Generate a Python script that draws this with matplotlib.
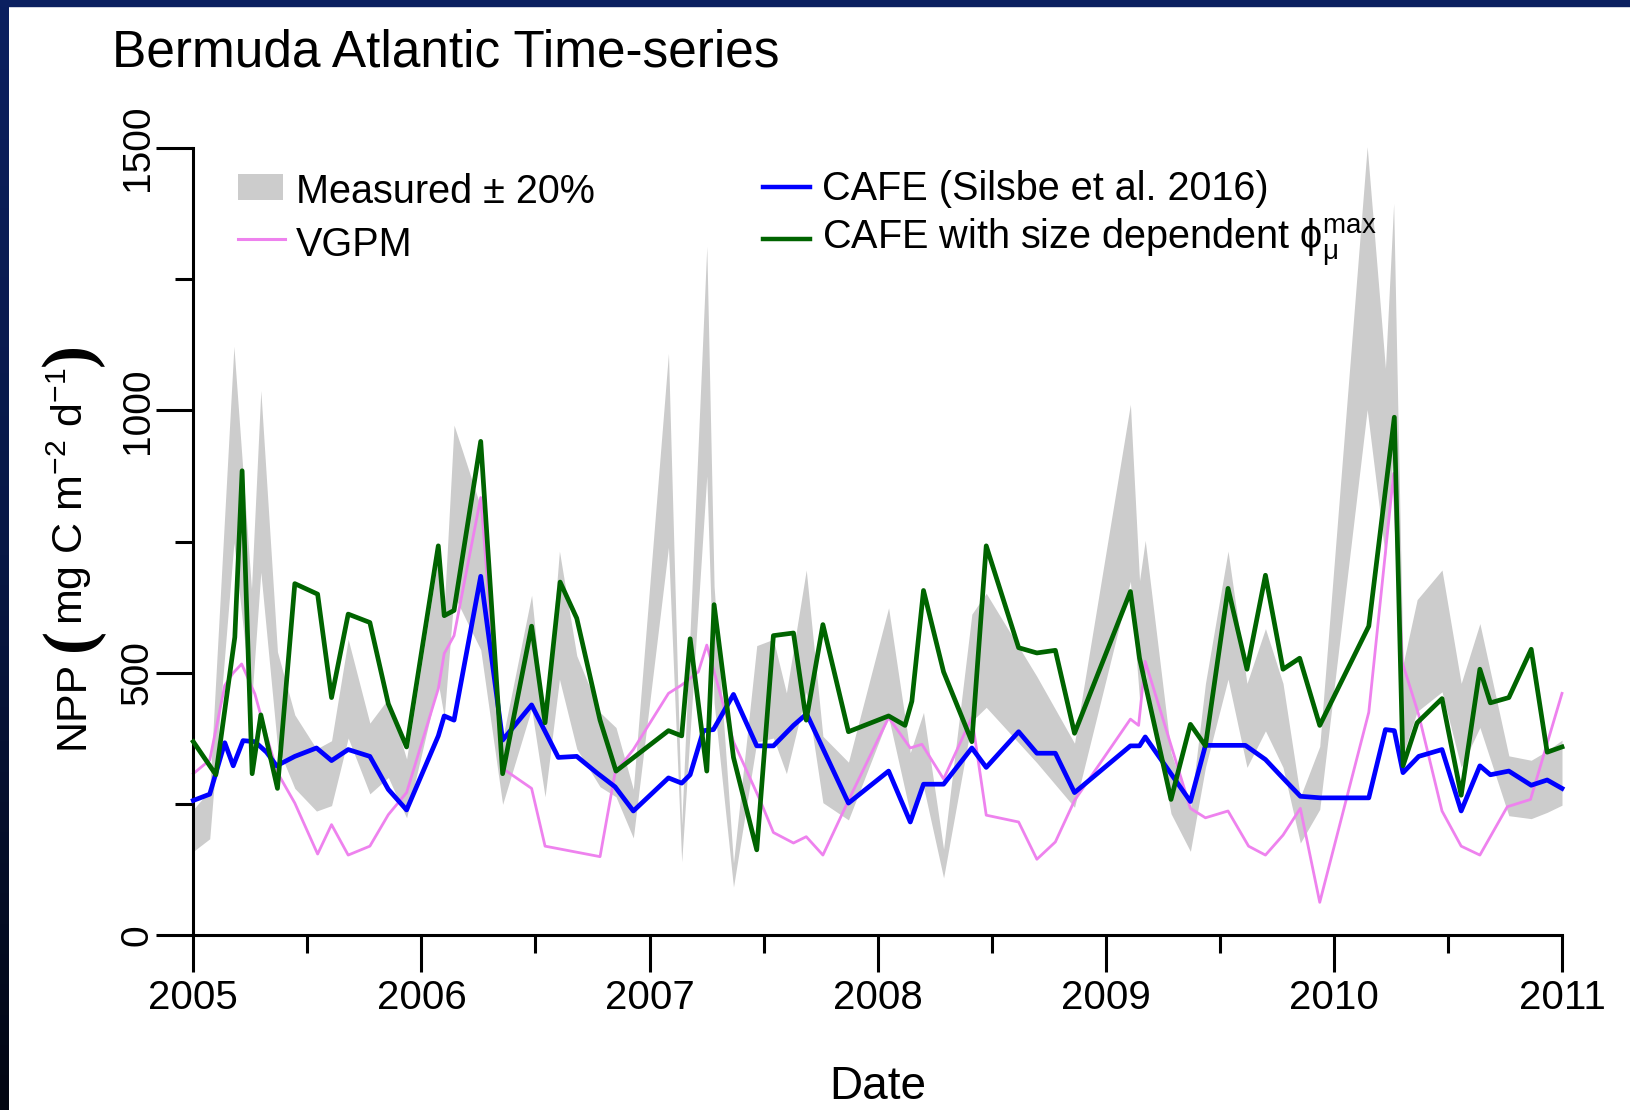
import numpy as np
import matplotlib
matplotlib.use("Agg")
import matplotlib.pyplot as plt
from matplotlib.patches import Rectangle
from matplotlib.lines import Line2D
from matplotlib.colors import LinearSegmentedColormap

plt.rcParams['font.family'] = ['Liberation Sans', 'DejaVu Sans']
plt.rcParams['mathtext.fontset'] = 'custom'
plt.rcParams['mathtext.rm'] = 'Liberation Sans'
plt.rcParams['mathtext.it'] = 'Liberation Sans:italic'
plt.rcParams['mathtext.bf'] = 'Liberation Sans:bold'
plt.rcParams['mathtext.sf'] = 'Liberation Sans'

# ---------------- data (decimal year, mg C m-2 d-1) ----------------
meas_t = [2005.000, 2005.072, 2005.178, 2005.255, 2005.296, 2005.369, 2005.445, 2005.540,
          2005.606, 2005.679, 2005.774, 2005.855, 2005.935, 2006.074, 2006.100, 2006.143,
          2006.260, 2006.356, 2006.483, 2006.542, 2006.605, 2006.681, 2006.783, 2006.853,
          2006.929, 2007.083, 2007.141, 2007.251, 2007.283, 2007.368, 2007.470, 2007.543,
          2007.600, 2007.687, 2007.760, 2007.872, 2008.048, 2008.143, 2008.201, 2008.289,
          2008.413, 2008.476, 2008.698, 2008.863, 2009.108, 2009.148, 2009.173, 2009.286,
          2009.371, 2009.437, 2009.536, 2009.619, 2009.700, 2009.777, 2009.853, 2009.938,
          2010.146, 2010.226, 2010.262, 2010.303, 2010.365, 2010.474, 2010.558, 2010.640,
          2010.767, 2010.865, 2010.935, 2011.000]
meas_v = [200, 230, 935, 550, 865, 450, 350, 296,
          309, 470, 337, 376, 280, 600, 520, 810,
          680, 312, 540, 330, 610, 444, 354, 330,
          232, 924, 175, 1094, 554, 115, 460, 470,
          385, 580, 316, 275, 520, 290, 354, 137,
          510, 543, 411, 305, 843, 563, 627, 290,
          200, 400, 610, 400, 487, 400, 220, 300,
          1252, 900, 1162, 430, 533, 580, 400, 495,
          285, 278, 293, 310]

vgpm_t = [2005.000, 2005.072, 2005.138, 2005.175, 2005.212, 2005.270, 2005.321, 2005.369,
          2005.445, 2005.545, 2005.606, 2005.679, 2005.774, 2005.855, 2005.935, 2006.074,
          2006.100, 2006.143, 2006.260, 2006.356, 2006.483, 2006.542, 2006.783, 2006.849,
          2006.929, 2007.083, 2007.141, 2007.214, 2007.251, 2007.368, 2007.485, 2007.543,
          2007.631, 2007.687, 2007.760, 2007.872, 2008.048, 2008.143, 2008.194, 2008.289,
          2008.413, 2008.476, 2008.618, 2008.698, 2008.779, 2008.863, 2009.108, 2009.144,
          2009.173, 2009.371, 2009.437, 2009.536, 2009.626, 2009.700, 2009.777, 2009.853,
          2009.938, 2010.153, 2010.262, 2010.300, 2010.372, 2010.474, 2010.558, 2010.640,
          2010.760, 2010.862, 2011.000]
vgpm_v = [308, 334, 476, 500, 517, 460, 380, 310,
          252, 155, 211, 153, 170, 230, 272, 470,
          537, 571, 834, 318, 280, 170, 150, 310,
          354, 461, 477, 502, 553, 369, 257, 196,
          176, 188, 153, 257, 415, 357, 364, 298,
          415, 229, 216, 145, 178, 257, 412, 400,
          522, 242, 224, 237, 170, 153, 191, 242,
          63, 425, 880, 520, 420, 237, 170, 153,
          245, 259, 461]

cafe_t = [2005.000, 2005.072, 2005.138, 2005.175, 2005.218, 2005.270, 2005.321, 2005.365,
          2005.445, 2005.540, 2005.606, 2005.679, 2005.774, 2005.855, 2005.935, 2006.074,
          2006.100, 2006.143, 2006.260, 2006.356, 2006.483, 2006.600, 2006.681, 2006.768,
          2006.849, 2006.929, 2007.083, 2007.141, 2007.178, 2007.236, 2007.280, 2007.368,
          2007.470, 2007.543, 2007.631, 2007.689, 2007.872, 2008.048, 2008.143, 2008.201,
          2008.289, 2008.413, 2008.476, 2008.618, 2008.698, 2008.779, 2008.863, 2009.108,
          2009.148, 2009.173, 2009.371, 2009.437, 2009.612, 2009.700, 2009.765, 2009.853,
          2009.941, 2010.153, 2010.226, 2010.265, 2010.303, 2010.372, 2010.474, 2010.558,
          2010.640, 2010.686, 2010.767, 2010.865, 2010.935, 2011.000]
cafe_v = [257, 269, 367, 323, 371, 369, 349, 323,
          341, 357, 333, 354, 341, 278, 239, 380,
          418, 410, 684, 372, 439, 339, 341, 310,
          283, 237, 300, 290, 306, 390, 392, 459,
          361, 361, 400, 422, 252, 313, 216, 288,
          288, 357, 320, 388, 347, 347, 272, 361,
          361, 378, 255, 362, 362, 335, 305, 265,
          262, 262, 392, 390, 310, 341, 354, 237,
          323, 306, 313, 286, 296, 280]

size_t = [2005.000, 2005.099, 2005.182, 2005.214, 2005.258, 2005.296, 2005.369, 2005.445,
          2005.545, 2005.606, 2005.679, 2005.774, 2005.855, 2005.935, 2006.074, 2006.100,
          2006.143, 2006.260, 2006.356, 2006.483, 2006.542, 2006.608, 2006.681, 2006.783,
          2006.853, 2007.083, 2007.141, 2007.178, 2007.251, 2007.283, 2007.368, 2007.470,
          2007.543, 2007.631, 2007.687, 2007.760, 2007.872, 2008.048, 2008.120, 2008.150,
          2008.201, 2008.289, 2008.413, 2008.476, 2008.618, 2008.698, 2008.779, 2008.863,
          2009.108, 2009.148, 2009.286, 2009.371, 2009.437, 2009.536, 2009.619, 2009.700,
          2009.777, 2009.850, 2009.938, 2010.153, 2010.265, 2010.303, 2010.365, 2010.474,
          2010.558, 2010.640, 2010.686, 2010.767, 2010.865, 2010.935, 2011.000]
size_v = [369, 306, 568, 885, 308, 420, 280, 670,
          650, 453, 612, 596, 441, 359, 742, 609,
          619, 941, 308, 589, 405, 673, 604, 410,
          313, 390, 380, 565, 313, 630, 339, 163,
          571, 576, 410, 592, 388, 418, 400, 446,
          657, 502, 369, 742, 548, 538, 543, 385,
          655, 528, 259, 402, 361, 661, 507, 686,
          507, 528, 400, 589, 987, 323, 405, 451,
          267, 507, 443, 453, 545, 349, 359]

year_ticks = [2005, 2006, 2007, 2008, 2009, 2010, 2011]
half_ticks = [2005.5, 2006.5, 2007.5, 2008.5, 2009.5, 2010.5]
npp_ticks = [0, 500, 1000, 1500]
npp_minor = [250, 750, 1250]

legend_labels = ["Measured \u00b1 20%", "VGPM", "CAFE (Silsbe et al. 2016)",
                 r"CAFE with size dependent $\mathrm{\phi}_{\mathrm{\mu}}^{\mathrm{max}}$"]

C_GRAY = '#cccccc'
C_PINK = '#ee82ee'
C_BLUE = '#0000ff'
C_GREEN = '#006400'

# ---------------- figure ----------------
W, H = 1631, 1110
fig = plt.figure(figsize=(W / 100, H / 100), dpi=100, facecolor='white')

def fx(px):
    return px / W

def fy(py):
    return 1 - py / H

# slide border (top + left strip)
fig.patches.append(Rectangle((0, fy(6)), 1, 6 / H, transform=fig.transFigure,
                             color='#0b2060', zorder=5))
axg = fig.add_axes([0, 0, fx(9), 1])
grad = np.linspace(0, 1, 256).reshape(-1, 1)
cmap = LinearSegmentedColormap.from_list('nv', ['#0b2060', '#081845', '#020612'])
axg.imshow(grad, aspect='auto', cmap=cmap, extent=[0, 1, 0, 1], origin='upper')
axg.axis('off')

x0, x1 = 193.3, 1562.0
y0, y1 = 935.4, 147.9
ax = fig.add_axes([fx(x0), fy(y0), fx(x1) - fx(x0), (y0 - y1) / H])
ax.set_xlim(2005, 2011)
ax.set_ylim(0, 1500)
ax.patch.set_alpha(0)

m = np.array(meas_v, dtype=float)
ax.fill_between(meas_t, 0.8 * m, 1.2 * m, color=C_GRAY, lw=0, clip_on=False, zorder=1)
ax.plot(vgpm_t, vgpm_v, color=C_PINK, lw=2.0, clip_on=False, zorder=2,
        solid_joinstyle='round')
ax.plot(cafe_t, cafe_v, color=C_BLUE, lw=3.4, clip_on=False, zorder=3,
        solid_joinstyle='round')
ax.plot(size_t, size_v, color=C_GREEN, lw=3.4, clip_on=False, zorder=4,
        solid_joinstyle='round')

for s in ['top', 'right']:
    ax.spines[s].set_visible(False)
for s in ['left', 'bottom']:
    ax.spines[s].set_linewidth(2.2)
ax.spines['left'].set_bounds(0, 1500)
ax.spines['bottom'].set_bounds(2005, 2011)

ax.set_xticks(year_ticks)
ax.set_xticklabels([str(y) for y in year_ticks])
ax.set_xticks(half_ticks, minor=True)
ax.set_yticks(npp_ticks)
ax.set_yticklabels([str(v) for v in npp_ticks])
ax.set_yticks(npp_minor, minor=True)
ax.tick_params(axis='both', which='major', length=26.5, width=2.2, direction='out')
ax.tick_params(axis='both', which='minor', length=13, width=2.2, direction='out')
ax.tick_params(axis='x', which='major', pad=5, labelsize=29)
ax.tick_params(axis='y', which='major', pad=0.5, labelrotation=90, labelsize=28)
for lab in ax.get_yticklabels():
    lab.set_va('center')

# titles / labels
fig.text(fx(112), fy(66.7), "Bermuda Atlantic Time-series", fontsize=37,
         ha='left', va='baseline')
fig.text(fx(877.5), fy(1099), "Date", fontsize=33, ha='center', va='baseline')

# y-axis label built from pieces (large parentheses as in the original)
renderer = fig.canvas.get_renderer()

def vtext(ystart_px, s, size, weight='normal', xbase=83.3, family=None, va='baseline'):
    kw = {}
    if family is not None:
        kw['family'] = family
    t = fig.text(fx(xbase), fy(ystart_px), s, fontsize=size, rotation=90,
                 rotation_mode='anchor', ha='left', va=va, fontweight=weight, **kw)
    bb = t.get_window_extent(renderer)
    return H - bb.y1

e1 = vtext(749, "NPP", 31)
e2 = vtext(e1 - 10, "(", 50, 'bold', xbase=72, family=['Liberation Serif'], va='center')
e3 = vtext(e2 - 3, r"mg C m$^{-2}$ d$^{-1}$", 31)
vtext(e3 - 1, ")", 50, 'bold', xbase=72, family=['Liberation Serif'], va='center')

# legend (manual, figure coordinates)
fig.patches.append(Rectangle((fx(238), fy(200)), fx(283) - fx(238), 26 / H,
                             transform=fig.transFigure, color=C_GRAY, lw=0))
fig.lines.append(Line2D([fx(238), fx(285)], [fy(239), fy(239)], transform=fig.transFigure,
                        color=C_PINK, lw=2.2))
fig.lines.append(Line2D([fx(763), fx(810)], [fy(187), fy(187)], transform=fig.transFigure,
                        color=C_BLUE, lw=3.2))
fig.lines.append(Line2D([fx(763), fx(810)], [fy(239), fy(239)], transform=fig.transFigure,
                        color=C_GREEN, lw=3.2))
fig.text(fx(296), fy(203), legend_labels[0], fontsize=28.5, ha='left', va='baseline')
fig.text(fx(296), fy(256), legend_labels[1], fontsize=28.5, ha='left', va='baseline')
fig.text(fx(822), fy(200), legend_labels[2], fontsize=28.5, ha='left', va='baseline')
fig.text(fx(822), fy(250), legend_labels[3], fontsize=28.5, ha='left', va='baseline')

fig.savefig("out.png", dpi=100, facecolor='white')
